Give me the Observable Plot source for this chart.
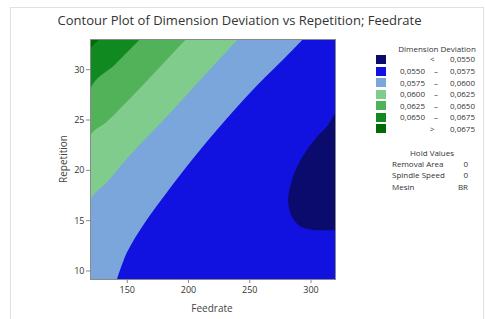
<!DOCTYPE html>
<html>
<head>
<meta charset="utf-8">
<script src="https://cdn.jsdelivr.net/npm/d3@7"></script>
<script src="https://cdn.jsdelivr.net/npm/@observablehq/plot@0.6"></script>
<style>
  html, body { margin: 0; padding: 0; background: #fff; }
  body { width: 485px; height: 319px; position: relative; overflow: hidden; font-family: "Open Sans", sans-serif; color: #333; }
  #border { position: absolute; left: 10px; top: 7px; width: 472px; height: 330px; border: 1px solid #e0e0e0; }
  #chart { position: absolute; left: 0; top: 0; }
  .title { position: absolute; top: 11px; left: -3px; width: 485px; text-align: center; font-size: 13px; color: #333; white-space: nowrap; }
  .axlab { position: absolute; font-size: 10px; color: #444; white-space: nowrap; }
  .leg { position: absolute; font-size: 8px; color: #333; white-space: nowrap; line-height: 10px; }
  .sw { position: absolute; width: 10px; height: 9px; }
  g[aria-label="x-axis tick"], g[aria-label="y-axis tick"] { stroke: #888; }
  g[aria-label="x-axis tick label"], g[aria-label="y-axis tick label"] { fill: #333; }
</style>
</head>
<body>
<div id="border"></div>
<div id="chart"></div>
<div class="title">Contour Plot of Dimension Deviation vs Repetition; Feedrate</div>
<div id="overlay"></div>
<script>
// ---- data ----
const feedrateDomain = [120, 320];
const repetitionDomain = [9.15, 33];
const feedrateTicks = [150, 200, 250, 300];
const repetitionTicks = [10, 15, 20, 25, 30];

// contour boundaries as [feedrate, repetition], sorted by repetition
const b0675 = [[120, 9.15], [120, 31.9], [128.5, 33]];
const b0650 = [[120, 9.15], [120, 28.0], [140.7, 30.5], [161, 33]];
const b0625 = [[120, 9.15], [120, 23.3], [134, 24.8], [158.4, 27.8], [198.5, 33]];
const b0600 = [[120, 9.15], [120, 16.9], [134, 18.8], [151.5, 21.3], [182.7, 25.3], [216.6, 29.8], [241, 33]];
const b0575 = [[142.1, 9.15], [150.2, 11.8], [165, 14.8], [183, 17.8], [206, 21.4], [231, 25.0], [253.4, 28.0], [280.5, 31.3], [294, 33]];
const b0550 = [[304, 14.0], [291.3, 14.4], [284.5, 15.4], [281.8, 16.8], [283, 18.1], [287.3, 19.8], [294, 21.4], [304.8, 23.2], [314, 24.4], [320, 25.6]];

const levelLabels = [
  ["", "<", "0,0550"],
  ["0,0550", "–", "0,0575"],
  ["0,0575", "–", "0,0600"],
  ["0,0600", "–", "0,0625"],
  ["0,0625", "–", "0,0650"],
  ["0,0650", "–", "0,0675"],
  ["", ">", "0,0675"]
];
const levelColors = ["#0b0b6e", "#1212e0", "#7aa6dc", "#80cc8c", "#52b25a", "#108a20", "#006b00"];
const holdNames = ["Removal Area", "Spindle Speed", "Mesin"];
const holdValues = ["0", "0", "BR"];

// ---- chart ----
const boundaries = [b0675, b0650, b0625, b0600, b0575, b0550];
const fills = [levelColors[5], levelColors[4], levelColors[3], levelColors[2], levelColors[1], levelColors[0]];

const areas = boundaries.map((b, i) => Plot.areaX(b, {
  y: d => d[1], x1: d => d[0], x2: () => feedrateDomain[1],
  fill: fills[i], curve: "catmull-rom", clip: true
}));

const chart = Plot.plot({
  width: 485, height: 319,
  marginLeft: 90, marginRight: 150, marginTop: 39, marginBottom: 40,
  style: { fontFamily: "Open Sans", fontSize: "9px", background: "transparent", overflow: "visible" },
  x: { domain: feedrateDomain },
  y: { domain: repetitionDomain },
  marks: [
    Plot.frame({ fill: levelColors[6] }),
    ...areas,
    Plot.frame({ stroke: "#8a8a8a" }),
    Plot.axisX({ ticks: feedrateTicks, tickSize: 4, tickPadding: 3, label: null, fontSize: 9 }),
    Plot.axisY({ ticks: repetitionTicks, tickSize: 4, tickPadding: 2, label: null, fontSize: 9 })
  ]
});
document.getElementById("chart").appendChild(chart);

// ---- axis titles & legend (HTML) ----
const ov = document.getElementById("overlay");
function add(cls, text, css) {
  const el = document.createElement("div");
  el.className = cls; el.textContent = text;
  Object.assign(el.style, css);
  ov.appendChild(el);
  return el;
}
add("axlab", "Feedrate", { left: "212px", top: "301px", transform: "translateX(-50%)" });
add("axlab", "Repetition", { left: "63px", top: "159px", transform: "translate(-50%,-50%) rotate(-90deg)" });

add("leg", "Dimension Deviation", { left: "437px", top: "44px", transform: "translateX(-50%)" });
const rowY = [59, 71, 82.5, 94, 105.5, 117, 128.5];
levelLabels.forEach((l, i) => {
  const y = rowY[i];
  const sw = document.createElement("div");
  sw.className = "sw"; sw.style.left = "376px"; sw.style.top = (y - 4.5) + "px"; sw.style.background = levelColors[i];
  ov.appendChild(sw);
  if (l[0]) add("leg", l[0], { right: (485 - 425) + "px", top: (y - 5) + "px" });
  add("leg", l[1], { left: (l[1] === "–" ? 434 : 430) + "px", top: (y - 5) + "px" });
  add("leg", l[2], { right: (485 - 475) + "px", top: (y - 5) + "px" });
});
add("leg", "Hold Values", { left: "432px", top: "148px", transform: "translateX(-50%)" });
holdNames.forEach((n, i) => {
  const y = 164 + i * 11.3;
  add("leg", n, { left: "392px", top: (y - 5) + "px" });
  add("leg", holdValues[i], { right: (485 - 468) + "px", top: (y - 5) + "px" });
});
</script>
</body>
</html>
